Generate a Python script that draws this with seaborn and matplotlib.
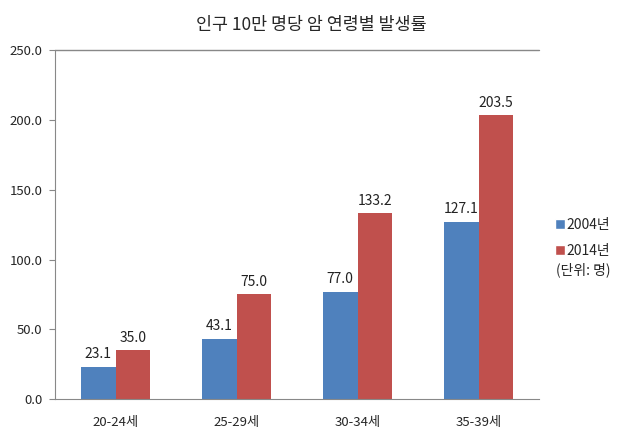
from matplotlib import pyplot as plt
from matplotlib.patches import Patch
import seaborn as sns
import pandas as pd
import numpy as np

categories = ["20-24세", "25-29세", "30-34세", "35-39세"]
series = ["2004년", "2014년"]
values_2004 = [23.1, 43.1, 77.0, 127.1]
values_2014 = [35.0, 75.0, 133.2, 203.5]
colors = ["#4F81BD", "#C0504D"]

df = pd.DataFrame({
    "age": categories * 2,
    "year": [series[0]] * 4 + [series[1]] * 4,
    "rate": values_2004 + values_2014,
})

sns.set_style("white")
plt.rcParams["font.family"] = ["Noto Sans CJK KR", "DejaVu Sans"]

fig = plt.figure(figsize=(6.23, 4.44), dpi=100)
ax = fig.add_axes([0.0883, 0.101, 0.777, 0.786])
sns.barplot(data=df, x="age", y="rate", hue="year", palette=colors,
            width=0.57, saturation=1, linewidth=0, ax=ax, legend=False)

for c in ax.containers:
    ax.bar_label(c, fmt="%.1f", padding=4, fontsize=10, color="#222222")

ax.set_ylim(0, 250)
ax.set_xlim(-0.5, 3.5)
ax.set_yticks(np.arange(0, 251, 50))
ax.set_yticklabels([f"{v:.1f}" for v in np.arange(0, 251, 50)], fontsize=9.5)
ax.set_xticks(range(4))
ax.set_xticklabels(categories, fontsize=9.5)
ax.set_xticks(np.arange(-0.5, 4, 1), minor=True)
ax.tick_params(axis="x", which="major", length=0, pad=12)
ax.tick_params(axis="x", which="minor", length=4, color="#888888", direction="out")
ax.tick_params(axis="y", length=4, pad=5, color="#888888", direction="out", left=True)
ax.set_xlabel("")
ax.set_ylabel("")

for side in ["top", "right"]:
    ax.spines[side].set_visible(False)
for side in ["left", "bottom"]:
    ax.spines[side].set_color("#888888")
ax.axhline(250, color="#888888", lw=1, clip_on=False)

handles = [Patch(facecolor=colors[i], label=series[i]) for i in range(2)]
fig.legend(handles=handles, loc="upper left", bbox_to_anchor=(0.871, 0.537),
           frameon=False, fontsize=10, handlelength=0.7, handleheight=0.7,
           handletextpad=0.1, labelspacing=0.85)
fig.text(0.893, 0.392, "(단위: 명)", fontsize=10, va="center")

fig.suptitle("인구 10만 명당 암 연령별 발생률", y=0.965, fontsize=12.5)

plt.savefig("out.png", dpi=100)
plt.close()
